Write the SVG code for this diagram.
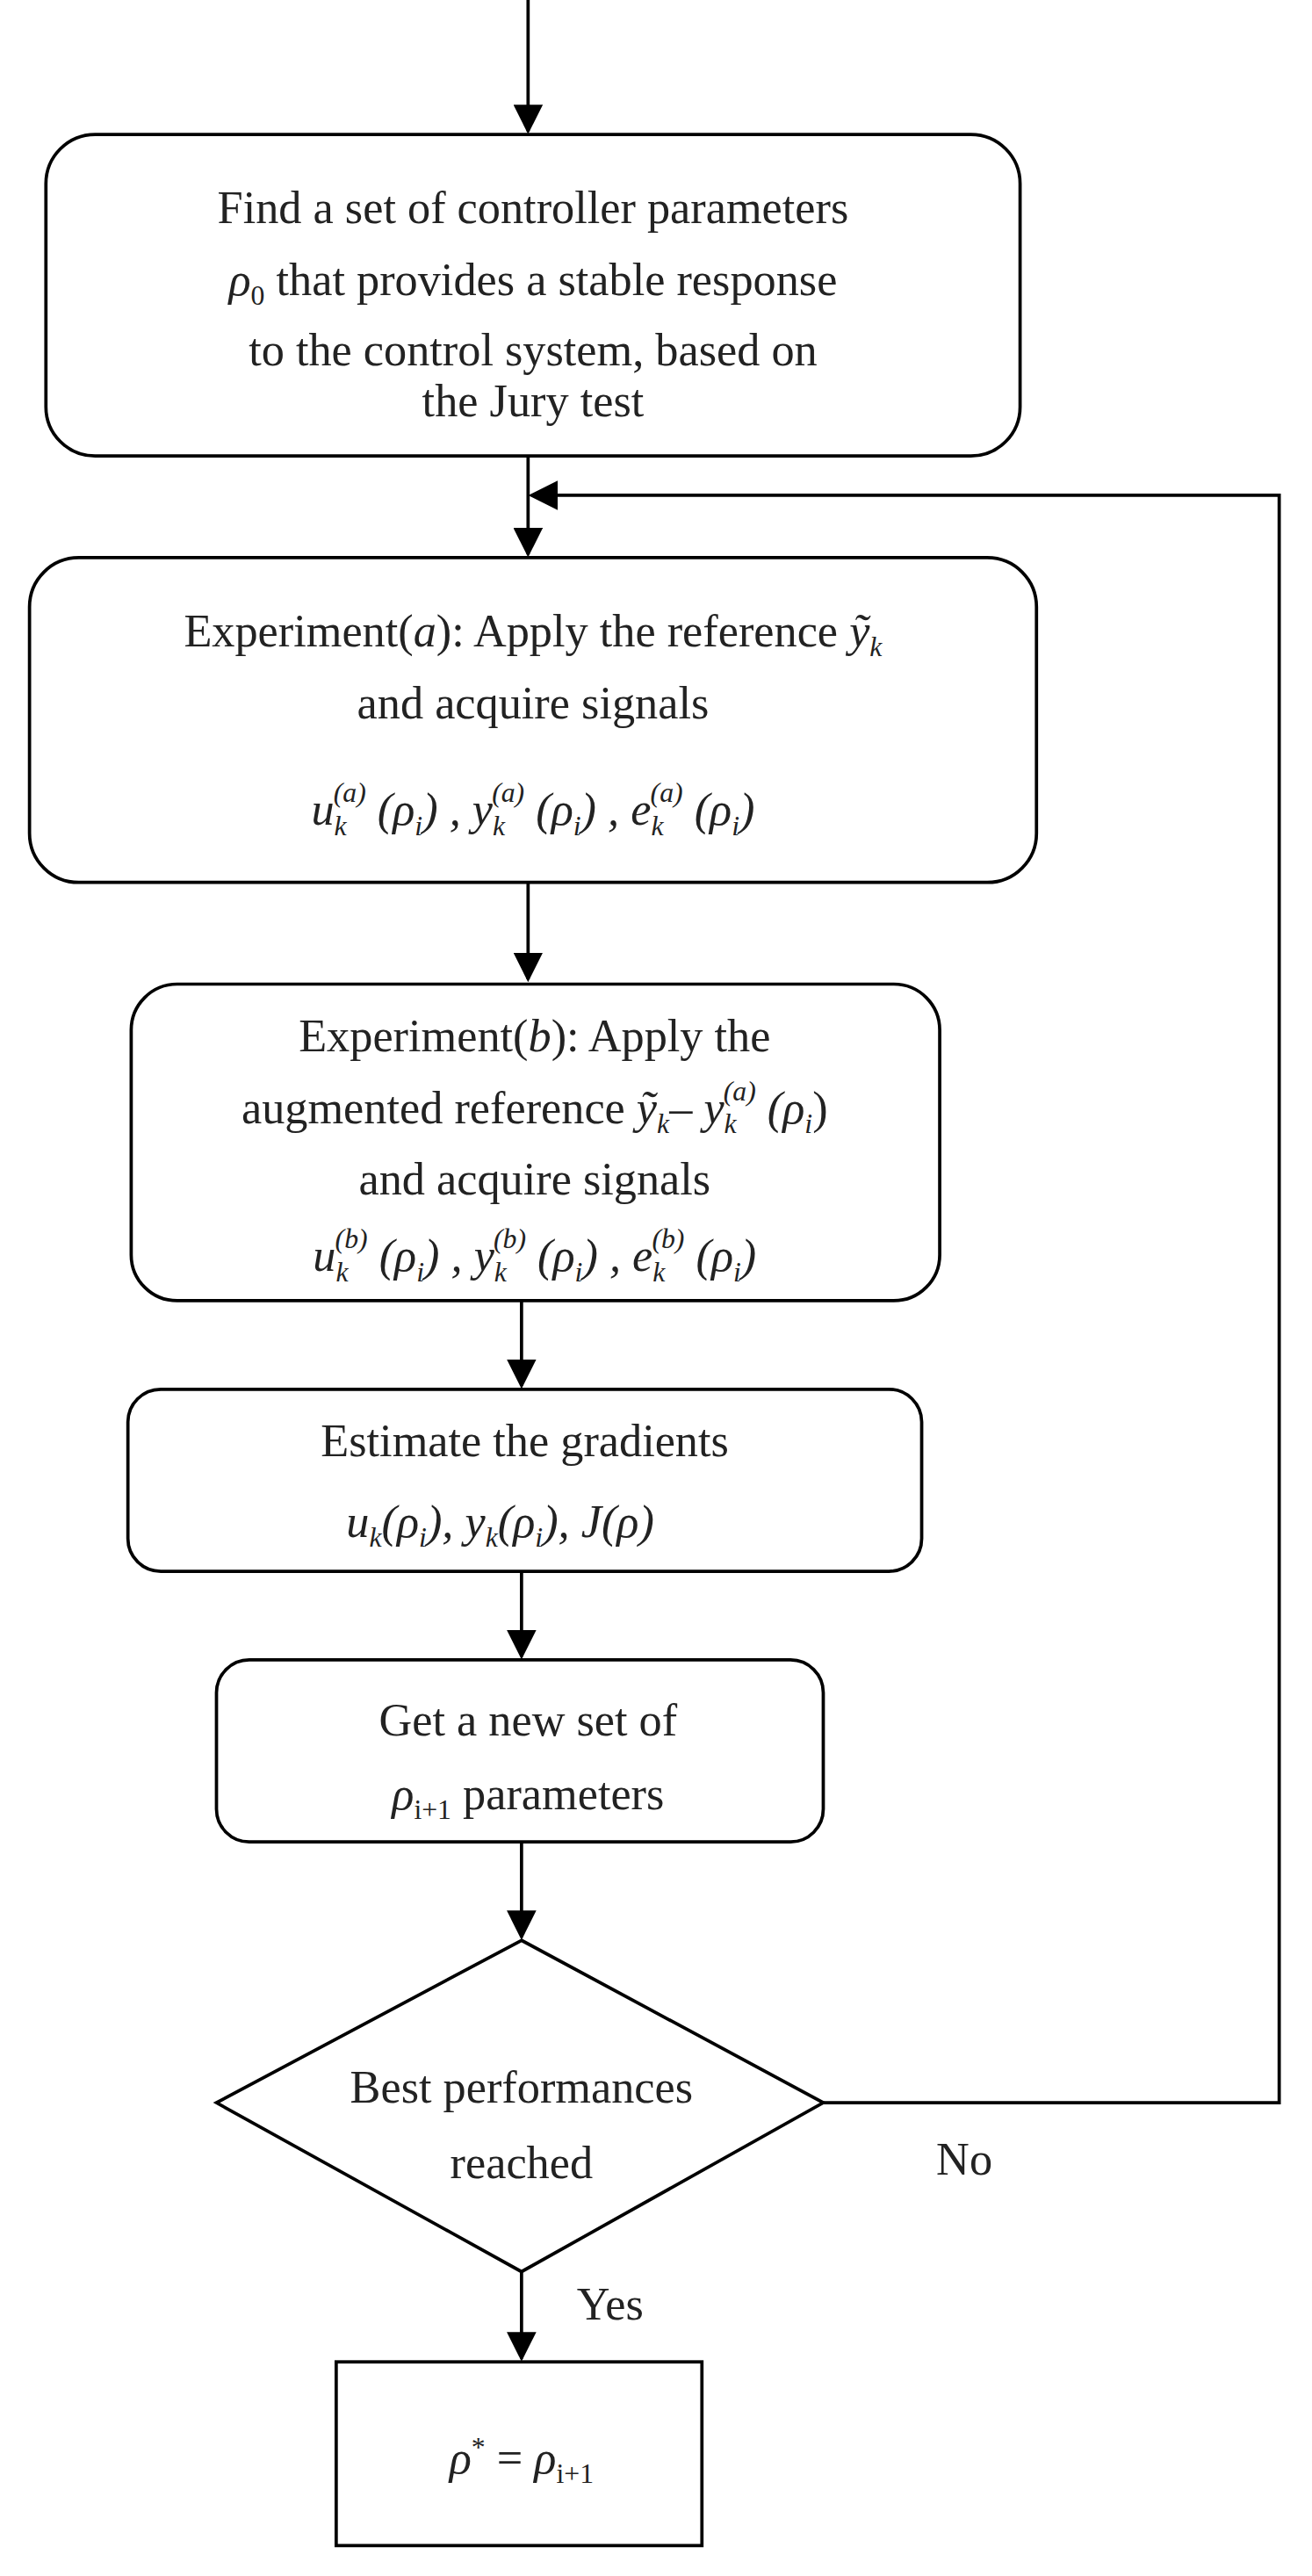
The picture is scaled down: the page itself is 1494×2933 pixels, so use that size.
<svg xmlns="http://www.w3.org/2000/svg" width="1494" height="2933" viewBox="0 0 1494 2933">
<style>
.b{fill:#fff;stroke:#000;stroke-width:2}
.l{fill:none;stroke:#000;stroke-width:2}
text{font-family:"Liberation Serif",serif;font-size:28px;fill:#222;text-anchor:middle}
.m{font-style:italic}
.s{font-size:17px}
</style>
<defs><marker id="a" markerWidth="10" markerHeight="10" refX="9" refY="5" orient="auto" markerUnits="userSpaceOnUse"><path d="M0,0 L10,5 L0,10 z" fill="#000"/></marker>
<marker id="A" viewBox="0 0 10 10" markerWidth="18" markerHeight="18" refX="9" refY="5" orient="auto" markerUnits="userSpaceOnUse"><path d="M0,0 L10,5 L0,10 z" fill="#000"/></marker></defs>
<rect width="1494" height="2933" fill="#fff"/>
<g transform="scale(1.8675)">
<g id="connectors">
<path class="l" d="M322,0 V80" marker-end="url(#A)"/>
<path class="l" d="M322,278 V338" marker-end="url(#A)"/>
<path class="l" d="M322,538 V597" marker-end="url(#A)"/>
<path class="l" d="M318,793 V845" marker-end="url(#A)"/>
<path class="l" d="M318,958 V1010" marker-end="url(#A)"/>
<path class="l" d="M318,1123 V1181" marker-end="url(#A)"/>
<path class="l" d="M318,1385 V1438" marker-end="url(#A)"/>
<path class="l" d="M502,1282 H780 V302 H324" marker-end="url(#A)"/>
<text x="588" y="1326">No</text>
<text x="372" y="1414">Yes</text>
</g>
<g id="n1"><rect class="b" x="28" y="82" width="594" height="196" rx="30"/>
<text x="325" y="136">Find a set of controller parameters</text>
<text x="325" y="180"><tspan class="m">ρ</tspan><tspan class="s" dy="6">0</tspan><tspan dy="-6"> that provides a stable response</tspan></text>
<text x="325" y="223">to the control system, based on</text>
<text x="325" y="254">the Jury test</text></g>
<g id="n2"><rect class="b" x="18" y="340" width="614" height="198" rx="30"/>
<text x="325" y="394">Experiment(<tspan class="m">a</tspan>): Apply the reference <tspan class="m">ỹ</tspan><tspan class="s m" dy="6">k</tspan></text>
<text x="325" y="438">and acquire signals</text>
<text x="325" y="503" class="m"><tspan>u</tspan><tspan class="s" dy="6">k</tspan><tspan class="s" dx="-8" dy="-20">(a)</tspan><tspan dy="14"> (ρ</tspan><tspan class="s" dy="6">i</tspan><tspan dy="-6">) , y</tspan><tspan class="s" dy="6">k</tspan><tspan class="s" dx="-8" dy="-20">(a)</tspan><tspan dy="14"> (ρ</tspan><tspan class="s" dy="6">i</tspan><tspan dy="-6">) , e</tspan><tspan class="s" dy="6">k</tspan><tspan class="s" dx="-8" dy="-20">(a)</tspan><tspan dy="14"> (ρ</tspan><tspan class="s" dy="6">i</tspan><tspan dy="-6">)</tspan></text></g>
<g id="n3"><rect class="b" x="80" y="600" width="493" height="193" rx="28"/>
<text x="326" y="641">Experiment(<tspan class="m">b</tspan>): Apply the</text>
<text x="326" y="685">augmented reference <tspan class="m">ỹ</tspan><tspan class="s m" dy="6">k</tspan><tspan dy="-6">– </tspan><tspan class="m">y</tspan><tspan class="s m" dy="6">k</tspan><tspan class="s m" dx="-8" dy="-20">(a)</tspan><tspan class="m" dy="14"> (ρ</tspan><tspan class="s m" dy="6">i</tspan><tspan dy="-6">)</tspan></text>
<text x="326" y="728">and acquire signals</text>
<text x="326" y="775" class="m"><tspan>u</tspan><tspan class="s" dy="6">k</tspan><tspan class="s" dx="-8" dy="-20">(b)</tspan><tspan dy="14"> (ρ</tspan><tspan class="s" dy="6">i</tspan><tspan dy="-6">) , y</tspan><tspan class="s" dy="6">k</tspan><tspan class="s" dx="-8" dy="-20">(b)</tspan><tspan dy="14"> (ρ</tspan><tspan class="s" dy="6">i</tspan><tspan dy="-6">) , e</tspan><tspan class="s" dy="6">k</tspan><tspan class="s" dx="-8" dy="-20">(b)</tspan><tspan dy="14"> (ρ</tspan><tspan class="s" dy="6">i</tspan><tspan dy="-6">)</tspan></text></g>
<g id="n4"><rect class="b" x="78" y="847" width="484" height="111" rx="20"/>
<text x="320" y="888">Estimate the gradients</text>
<text x="305" y="937" class="m"><tspan>u</tspan><tspan class="s" dy="6">k</tspan><tspan dy="-6">(ρ</tspan><tspan class="s" dy="6">i</tspan><tspan dy="-6">), y</tspan><tspan class="s" dy="6">k</tspan><tspan dy="-6">(ρ</tspan><tspan class="s" dy="6">i</tspan><tspan dy="-6">), J(ρ)</tspan></text></g>
<g id="n5"><rect class="b" x="132" y="1012" width="370" height="111" rx="20"/>
<text x="322" y="1058">Get a new set of</text>
<text x="322" y="1103"><tspan class="m">ρ</tspan><tspan class="s" dy="6">i+1</tspan><tspan dy="-6"> parameters</tspan></text></g>
<g id="n6"><path class="b" d="M318,1183 L502,1282 L318,1385 L132,1282 Z"/>
<text x="318" y="1282">Best performances</text>
<text x="318" y="1328">reached</text></g>
<g id="n7"><rect class="b" x="205" y="1440" width="223" height="112"/>
<text x="318" y="1508"><tspan class="m">ρ</tspan><tspan class="s" dy="-10">*</tspan><tspan dy="10"> = </tspan><tspan class="m">ρ</tspan><tspan class="s" dy="6">i+1</tspan></text></g>
</g>
</svg>
